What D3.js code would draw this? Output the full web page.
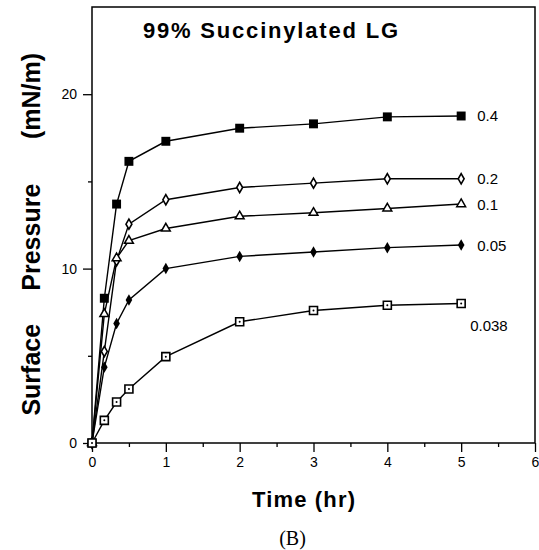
<!DOCTYPE html>
<html>
<head>
<meta charset="utf-8">
<script src="https://cdn.jsdelivr.net/npm/d3@7"></script>
<style>
  body { margin: 0; background: #fff; }
  text { font-family: "Liberation Sans", Arial, sans-serif; fill: #000; }
  .axis text { font-size: 14px; }
  .axis path, .axis line { stroke: #000; stroke-width: 1.3; }
</style>
</head>
<body>
<div id="chart-area"></div>
<script>
// tiempos en horas
var times = [0, 0.167, 0.333, 0.5, 1, 2, 3, 4, 5];

// presión superficial (mN/m) por concentración
var conc04   = [0, 8.3, 13.7, 16.15, 17.3, 18.05, 18.3, 18.7, 18.75];
var conc02   = [0, 5.25, 10.45, 12.55, 13.95, 14.65, 14.9, 15.15, 15.15];
var conc01   = [0, 7.4, 10.6, 11.6, 12.3, 13.0, 13.2, 13.45, 13.7];
var conc005  = [0, 4.35, 6.85, 8.2, 10.0, 10.7, 10.95, 11.2, 11.35];
var conc0038 = [0, 1.3, 2.35, 3.1, 4.95, 6.95, 7.6, 7.9, 8.0];

var seriesLabels = ["0.4", "0.2", "0.1", "0.05", "0.038"];
var seriesValues = [conc04, conc02, conc01, conc005, conc0038];
var seriesMarkers = ["fsquare", "odiamond", "otriangle", "fdiamond", "osquare"];

var xTicks = [0, 1, 2, 3, 4, 5, 6];
var xMinorTicks = [0.5, 1.5, 2.5, 3.5, 4.5, 5.5];
var yTicks = [0, 10, 20];
var yMinorTicks = [5, 15];

var width = 539, height = 550;
var margin = {top: 7, right: 4, bottom: 107, left: 92};
var innerW = width - margin.left - margin.right;
var innerH = height - margin.top - margin.bottom;

var svg = d3.select("#chart-area")
    .append("svg")
    .attr("width", width)
    .attr("height", height);

var g = svg.append("g")
    .attr("transform", "translate(" + margin.left + "," + margin.top + ")");

var xScale = d3.scaleLinear().domain([0, 6]).range([0, innerW]);
var yScale = d3.scaleLinear().domain([0, 25]).range([innerH, 0]);
var fmt = d3.format("d");

// ejes
g.append("g")
    .attr("class", "axis")
    .attr("transform", "translate(0," + innerH + ")")
    .call(d3.axisBottom(xScale).tickValues(xTicks).tickFormat(fmt).tickSize(9).tickSizeOuter(0).tickPadding(5))
    .select(".domain").remove();
g.append("g")
    .attr("class", "axis")
    .attr("transform", "translate(0," + innerH + ")")
    .call(d3.axisBottom(xScale).tickValues(xMinorTicks).tickSize(4).tickFormat(""))
    .select(".domain").remove();
g.append("g")
    .attr("class", "axis")
    .call(d3.axisLeft(yScale).tickValues(yTicks).tickFormat(fmt).tickSize(9).tickSizeOuter(0).tickPadding(6))
    .select(".domain").remove();
g.append("g")
    .attr("class", "axis")
    .call(d3.axisLeft(yScale).tickValues(yMinorTicks).tickSize(4).tickFormat(""))
    .select(".domain").remove();

// marco
g.append("rect")
    .attr("x", 0).attr("y", 0)
    .attr("width", innerW).attr("height", innerH)
    .attr("fill", "none")
    .attr("stroke", "#000")
    .attr("stroke-width", 1.5);

var line = d3.line()
    .x(function(d, i){ return xScale(times[i]); })
    .y(function(d){ return yScale(d); });

seriesValues.forEach(function(vals, s){
    g.append("path")
        .datum(vals)
        .attr("d", line)
        .attr("fill", "none")
        .attr("stroke", "#000")
        .attr("stroke-width", 1.4);
});

// marcadores
seriesValues.forEach(function(vals, s){
    var kind = seriesMarkers[s];
    var pts = g.selectAll(".m" + s)
        .data(vals)
        .enter()
        .append("g")
        .attr("transform", function(d, i){
            return "translate(" + xScale(times[i]) + "," + yScale(d) + ")";
        });
    if (kind === "fsquare") {
        pts.append("path").attr("d", d3.symbol(d3.symbolSquare, 80)).attr("fill", "#000");
    } else if (kind === "osquare") {
        pts.append("path").attr("d", d3.symbol(d3.symbolSquare, 64))
            .attr("fill", "#fff").attr("stroke", "#000").attr("stroke-width", 1.6);
        pts.append("circle").attr("r", 1).attr("fill", "#000");
    } else if (kind === "odiamond") {
        pts.append("path").attr("d", d3.symbol(d3.symbolDiamond, 30))
            .attr("fill", "#fff").attr("stroke", "#000").attr("stroke-width", 1.6);
    } else if (kind === "fdiamond") {
        pts.append("path").attr("d", d3.symbol(d3.symbolDiamond, 38)).attr("fill", "#000");
    } else if (kind === "otriangle") {
        pts.append("path").attr("d", d3.symbol(d3.symbolTriangle, 34))
            .attr("fill", "#fff").attr("stroke", "#000").attr("stroke-width", 1.5);
    }
});

// etiquetas de concentración
var labelOffsets = [[16, 5], [16, 5], [16, 6], [16, 6], [9, 28]];
seriesValues.forEach(function(vals, s){
    var last = vals.length - 1;
    g.append("text")
        .attr("x", xScale(times[last]) + labelOffsets[s][0])
        .attr("y", yScale(vals[last]) + labelOffsets[s][1])
        .style("font-size", "15px")
        .text(seriesLabels[s]);
});

// título
g.append("text")
    .attr("x", 51)
    .attr("y", 31)
    .attr("textLength", 255)
    .attr("lengthAdjust", "spacing")
    .style("font-size", "22px")
    .style("font-weight", "bold")
    .text("99% Succinylated LG");

// títulos de ejes
g.append("text")
    .attr("x", innerW / 2 - 10)
    .attr("y", innerH + 64)
    .attr("text-anchor", "middle")
    .attr("textLength", 103)
    .attr("lengthAdjust", "spacing")
    .style("font-size", "22px")
    .style("font-weight", "bold")
    .text("Time (hr)");

var yWords = [["Surface", 4.2], ["Pressure", 11.8], ["(mN/m)", 19.9]];
yWords.forEach(function(w){
    g.append("text")
        .attr("transform", "translate(-52," + yScale(w[1]) + ") rotate(-90)")
        .attr("text-anchor", "middle")
        .style("font-size", "25px")
        .style("font-weight", "bold")
        .text(w[0]);
});

svg.append("text")
    .attr("x", margin.left + innerW / 2 - 21)
    .attr("y", 545)
    .attr("text-anchor", "middle")
    .style("font-family", "'Liberation Serif', 'Times New Roman', serif")
    .style("font-size", "20px")
    .text("(B)");
</script>
</body>
</html>
